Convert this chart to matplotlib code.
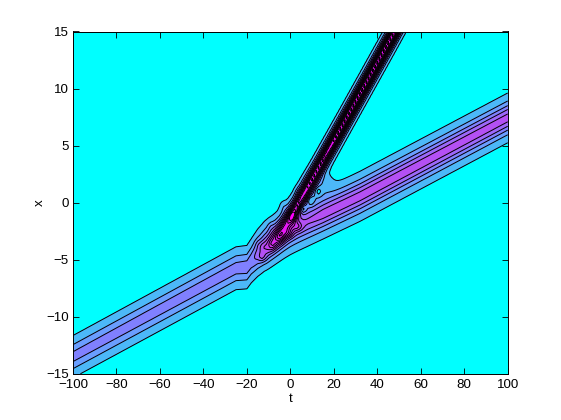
import numpy as np
import matplotlib
matplotlib.use("Agg")
import matplotlib.pyplot as plt

plt.rcParams['font.family'] = ['Liberation Sans', 'DejaVu Sans']

# Axis ticks
t_ticks = [-100, -80, -60, -40, -20, 0, 20, 40, 60, 80, 100]
x_ticks = [-15, -10, -5, 0, 5, 10, 15]

# Broad ridge: time, centre, height, width
wide_t = [-100, -25, -20, -15, -12, 0, 15, 32, 100]
wide_centre = [-13.5, -5.75, -5.65, -4.3, -3.7, -2.4, -1.0, 0.55, 7.43]
wide_height = [2.9, 3.0, 3.1, 3.4, 3.6, 4.3, 5.05, 5.05, 4.95]
wide_width = [1.3, 1.3, 1.3, 1.3, 1.3, 1.3, 1.27, 1.27, 1.27]

# Steep ridge
steep_t = [-18, -12, -5, 1, 22, 48, 100]
steep_centre = [-5.6, -4.4, -2.7, -1.0, 6.1, 15.0, 33.0]
steep_height = [0.0, 1.5, 5.0, 9.0, 12.0, 12.0, 12.0]
steep_width = [1.0, 1.0, 0.95, 0.9, 0.85, 0.85, 0.85]

# Ripple blobs seen around the crossing
blob_t = [13.0, 12.8, 9.2, 5.5, 1.0, -4.6, -8.3, -12.4, 3.2, -1.0, -12.8, 17.0,
          -9.0, -3.2, 3.7, 8.0, -15.0]
blob_x = [1.5, 1.0, 0.2, -0.5, -1.2, -3.0, -3.7, -3.9, -2.1, -2.7, -4.8, 2.0,
          -2.1, -0.35, 0.9, 0.8, -3.6]
blob_height = [0.8, -1.5, -1.8, -3.0, 2.5, 2.0, 1.2, 1.0, 2.0, 2.0, 1.5, 0.25,
               0.7, 0.7, 0.6, 0.3, 0.5]
blob_t_size = [6.0, 1.6, 1.6, 1.6, 2.0, 2.0, 1.6, 1.6, 2.2, 2.2, 1.8, 3.0,
               1.6, 1.6, 1.6, 3.0, 1.6]
blob_x_size = [1.1, 0.4, 0.4, 0.4, 0.5, 0.5, 0.45, 0.45, 0.4, 0.4, 0.4, 0.5,
               0.5, 0.5, 0.5, 0.6, 0.4]

# Contour levels and band colours
levels = [0.6, 1.6, 2.6, 3.6, 4.6, 5.6, 6.6, 7.6, 8.6, 9.6, 10.6, 11.6, 30.0]
band_colors = ['#00ffff', '#4cb8f8', '#6a9eff', '#8080ff', '#9c68fa', '#b450f4',
               '#c040f4', '#cc34f4', '#d82cf4', '#e020f4', '#e818f8', '#f010fa',
               '#ff00ff']

t_grid = np.arange(-100, 100.5, 1.0)
x_grid = np.arange(-15, 15.05, 0.125)
T, X = np.meshgrid(t_grid, x_grid)


def ridge(tk, ck, hk, wk):
    c = np.interp(T, tk, ck)
    h = np.interp(T, tk, hk)
    w = np.interp(T, tk, wk)
    return h / np.cosh((X - c) / w) ** 2


U = ridge(wide_t, wide_centre, wide_height, wide_width)
U = U + ridge(steep_t, steep_centre, steep_height, steep_width)
for bt, bx, bh, bts, bxs in zip(blob_t, blob_x, blob_height, blob_t_size, blob_x_size):
    U = U + bh * np.exp(-((T - bt) / bts) ** 2 - ((X - bx) / bxs) ** 2)

fig = plt.figure(figsize=(5.61, 4.20), dpi=100)
ax = fig.add_axes([0.13, 0.11, 0.775, 0.815])
fill_levels = [-50.0] + levels
ax.contourf(T, X, U, levels=fill_levels, colors=band_colors)
ax.contour(T, X, U, levels=levels[:-1], colors='black', linewidths=0.7)

ax.set_xlim(-100, 100)
ax.set_ylim(-15, 15)
ax.set_xticks(t_ticks)
ax.set_yticks(x_ticks)
ax.tick_params(axis='x', direction='in', top=True, length=4, width=0.6,
               labelsize=9.6, pad=4)
ax.tick_params(axis='y', direction='in', right=True, length=4, width=0.6,
               labelsize=9.6, pad=3)
for s in ax.spines.values():
    s.set_linewidth(0.7)
ax.set_xlabel('t', fontsize=9.6, labelpad=1)
ax.set_ylabel('x', fontsize=9.6, labelpad=0)
fig.savefig('out.png', dpi=100)
